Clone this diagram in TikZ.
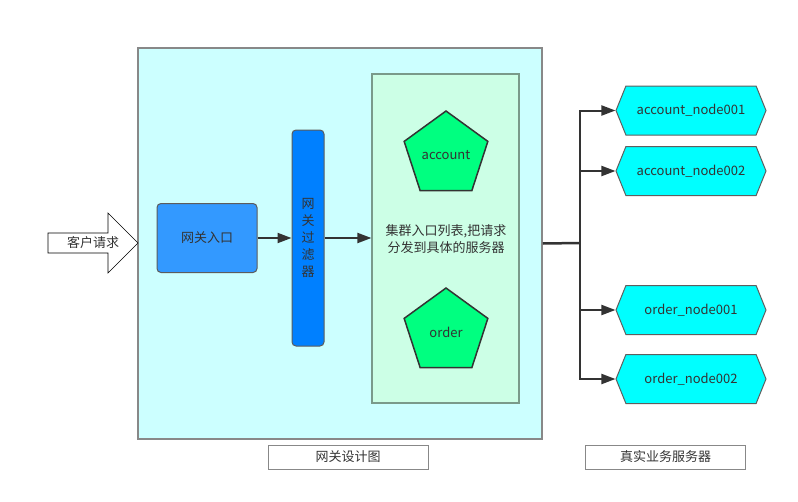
\documentclass[tikz,border=0pt]{standalone}
\usepackage{fontspec}
\setmainfont{Noto Sans CJK SC}
\usetikzlibrary{shapes.geometric,shapes.symbols,arrows.meta}
\definecolor{outerfill}{HTML}{CCFFFF}
\definecolor{innerfill}{HTML}{CCFFE6}
\definecolor{pentfill}{HTML}{00FF80}
\definecolor{hexfill}{HTML}{00FFFF}
\definecolor{entryfill}{HTML}{3399FF}
\definecolor{filterfill}{HTML}{0080FF}
\definecolor{linecol}{HTML}{333333}
\definecolor{bordergray}{HTML}{888888}
\definecolor{innerborder}{HTML}{7A9A8A}
\tikzset{
  txt/.style={text=linecol,font=\fontsize{13pt}{17pt}\selectfont},
  outerbox/.style={draw=bordergray,line width=1.5pt,fill=outerfill,minimum width=404pt,minimum height=391pt,inner sep=0pt},
  innerbox/.style={draw=innerborder,line width=1.2pt,fill=innerfill,minimum width=147pt,minimum height=329pt,inner sep=0pt},
  entrybox/.style={txt,draw=linecol!80,line width=1pt,fill=entryfill,rounded corners=4pt,minimum width=100pt,minimum height=69pt,inner sep=0pt},
  filterbox/.style={txt,draw=linecol!80,line width=1pt,fill=filterfill,rounded corners=4pt,minimum width=32pt,minimum height=216pt,inner sep=0pt,align=center},
  pent/.style={txt,regular polygon,regular polygon sides=5,draw=linecol,line width=1.5pt,fill=pentfill,minimum size=88pt,inner sep=0pt},
  hexnode/.style={txt,signal,signal to=west and east,signal pointer angle=136,draw=bordergray!70!black,line width=1pt,fill=hexfill,minimum width=150pt,minimum height=49pt,inner sep=0pt},
  labelbox/.style={txt,draw=bordergray,line width=1pt,minimum width=160pt,minimum height=24pt,inner sep=0pt},
  conn/.style={draw=linecol,line width=2pt,-{Triangle[length=14pt,width=10pt]}},
  trunk/.style={draw=linecol,line width=2.5pt},
}
\begin{document}
\begin{tikzpicture}[x=1pt,y=-1pt]
\useasboundingbox (0,0) rectangle (798,501);
% outer gateway box
\node[outerbox] (outer) at (340,243.5) {};
% client request arrow
\draw[draw=black,line width=0.6pt,fill=white] (48,233) -- (108,233) -- (108,213) -- (138,243) -- (108,273) -- (108,253) -- (48,253) -- cycle;
\node[txt] (client) at (93,243) {客户请求};
% entry
\node[entrybox] (entry) at (207,238) {网关入口};
% filter
\node[filterbox] (filter) at (308,238) {网\\关\\过\\滤\\器};
% inner cluster box
\node[innerbox] (inner) at (445.5,238.5) {};
\node[pent] (acc) at (446,155) {account};
\node[pent] (ord) at (446,332) {order};
\node[txt,align=center] (desc) at (446,239) {集群入口列表,把请求\\分发到具体的服务器};
% connectors inside
\draw[conn] (entry.east) -- (entry.east -| filter.west);
\draw[conn] (filter.east) -- (filter.east -| inner.west);
% real servers
\node[hexnode] (h1) at (691,110.5) {account\_node001};
\node[hexnode] (h2) at (691,171) {account\_node002};
\node[hexnode] (h3) at (691,310) {order\_node001};
\node[hexnode] (h4) at (691,379) {order\_node002};
\coordinate (split) at (580,243);
\draw[trunk] (outer.east) -- (split);
\draw[trunk] (split |- h1.west) -- (split |- h4.west);
\draw[conn] (split) |- (h1.west);
\draw[conn] (split) |- (h2.west);
\draw[conn] (split) |- (h3.west);
\draw[conn] (split) |- (h4.west);
% labels
\node[labelbox] (lab1) at (348,457) {网关设计图};
\node[labelbox] (lab2) at (665.5,457) {真实业务服务器};
\end{tikzpicture}
\end{document}
